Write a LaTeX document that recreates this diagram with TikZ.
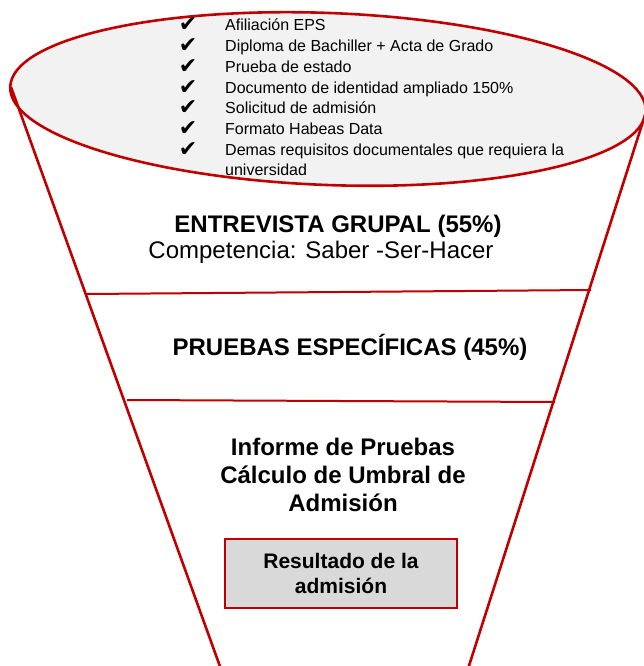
\documentclass[tikz,border=0pt]{standalone}
\usepackage{fontspec}
\setmainfont{Liberation Sans}
\newfontfamily\checkfont{DejaVu Sans}
\usetikzlibrary{positioning}
\definecolor{funnelred}{HTML}{C00000}
\definecolor{rimgray}{HTML}{F2F2F2}
\definecolor{boxgray}{HTML}{D9D9D9}

\begin{document}
\begin{tikzpicture}[
    x=1pt, y=-1pt, % pixel-like coordinates, y grows downwards
    funnel/.style={draw=funnelred, line width=2.6pt},
    divider/.style={draw=funnelred, line width=2pt},
    checkmark/.style={anchor=base, inner sep=0pt, font=\checkfont\bfseries\fontsize{22}{22}\selectfont},
    checkitem/.style={anchor=base west, inner sep=0pt, font=\fontsize{16}{20}\selectfont},
    stagetitle/.style={anchor=base, inner sep=0pt, align=center, font=\bfseries\fontsize{24}{28}\selectfont},
    stagetext/.style={anchor=base, inner sep=0pt, font=\fontsize{24}{28}\selectfont},
    resultbox/.style={rectangle, draw=funnelred, line width=1.6pt, fill=boxgray, minimum width=232pt, minimum height=69pt, align=center, font=\bfseries\fontsize{21}{25}\selectfont}
]
\useasboundingbox (0,0) rectangle (643,666);

% Rim of the funnel (requirements)
\coordinate (rimc) at (328,99);
\draw[funnel, fill=rimgray, rotate around={-2.2:(rimc)}] (rimc) ellipse [x radius=318, y radius=86];

% Funnel sides
\coordinate (rimL) at (11,87);
\coordinate (rimR) at (646,112);
\coordinate (tipL) at (222,672);
\coordinate (tipR) at (467,672);
\draw[funnel] (rimL) -- (tipL);
\draw[funnel] (rimR) -- (tipR);

% Stage dividers
\coordinate (cut1L) at (87,294);
\coordinate (cut1R) at (591,290);
\coordinate (cut2L) at (127,400);
\coordinate (cut2R) at (555,402);
\draw[divider] (cut1L) -- (cut1R);
\draw[divider] (cut2L) -- (cut2R);

% Requirements checklist
\foreach \req [count=\i from 0] in {Afiliación EPS, Diploma de Bachiller + Acta de Grado, Prueba de estado, Documento de identidad ampliado 150\%, Solicitud de admisión, Formato Habeas Data, {\vtop{\hbox{Demas requisitos documentales que requiera la}\hbox{universidad}}}} {
    \node[checkmark] (chk\i) at (188,{32+20.67*\i}) {✔};
    \node[checkitem] (req\i) at (225,{31+20.67*\i}) {\req};
}

% Stages
\node[stagetitle] (interview) at (338,232) {ENTREVISTA GRUPAL (55\%)};
\node[stagetext] (skills) at (321,258) {Competencia: Saber -Ser-Hacer};
\node[stagetitle] (tests) at (350,355) {PRUEBAS ESPECÍFICAS (45\%)};
\node[stagetitle, anchor=north] (report) at (343,438) {Informe de Pruebas\\Cálculo de Umbral de\\Admisión};

% Result
\node[resultbox] (result) at (341,573.5) {Resultado de la\\admisión};

\end{tikzpicture}
\end{document}
